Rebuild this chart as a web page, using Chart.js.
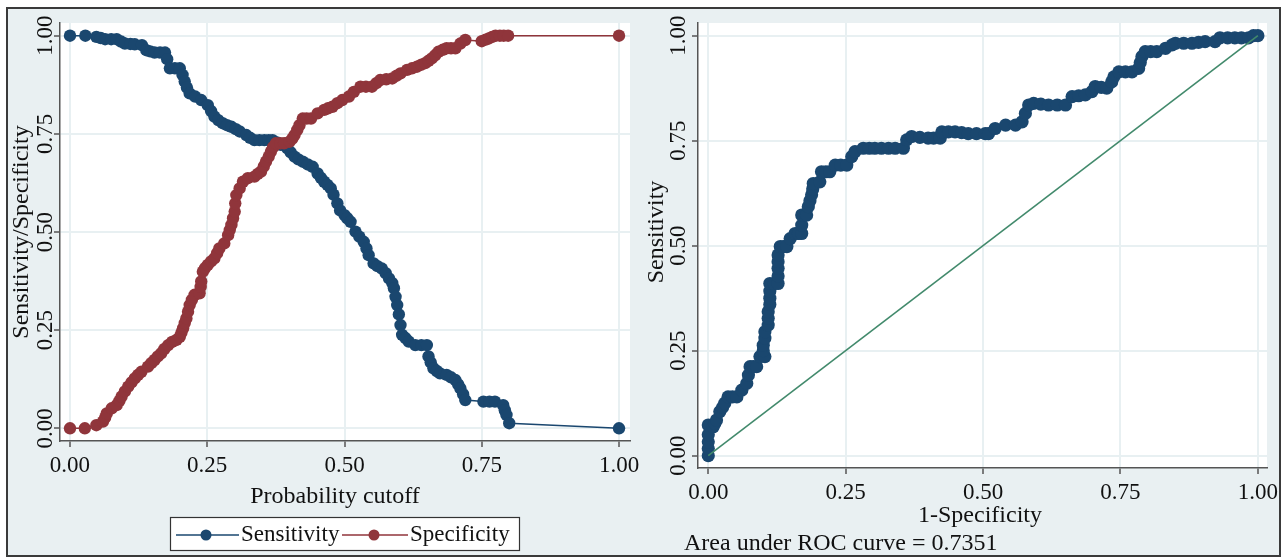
<!DOCTYPE html>
<html>
<head>
<meta charset="utf-8">
<script src="https://cdn.jsdelivr.net/npm/chart.js@4.4.1/dist/chart.umd.min.js"></script>
<style>
  html, body { margin:0; padding:0; background:#ffffff; width:1285px; height:559px; overflow:hidden; }
  #frame { position:absolute; left:6px; top:7px; width:1275px; height:550px; box-sizing:border-box;
           border:2px solid #3a3a3a; background:#e9f0f2; }
  #cLeft { position:absolute; left:0; top:0; }
  #cRight { position:absolute; left:640px; top:0; }
</style>
</head>
<body>
<div id="frame"></div>
<canvas id="cLeft" width="640" height="559"></canvas>
<canvas id="cRight" width="645" height="559"></canvas>
<script>
// ---------------- DATA ----------------
const tickValues = [0, 0.25, 0.5, 0.75, 1];
const tickLabels = ['0.00', '0.25', '0.50', '0.75', '1.00'];
const seriesNames = ['Sensitivity', 'Specificity'];
const leftXTitle = 'Probability cutoff';
const leftYTitle = 'Sensitivity/Specificity';
const rightXTitle = '1-Specificity';
const rightYTitle = 'Sensitivity';
const aucNote = 'Area under ROC curve = 0.7351';

const sensCutoff = [0,0.028,0.048,0.056,0.064,0.075,0.085,0.093,0.10,0.11,0.118,0.131,0.139,0.146,0.154,0.164,0.173,0.177,0.182,0.191,0.2,0.205,0.209,0.213,0.218,0.228,0.239,0.251,0.257,0.263,0.27,0.278,0.286,0.294,0.302,0.309,0.321,0.328,0.336,0.345,0.354,0.362,0.369,0.377,0.384,0.396,0.402,0.409,0.416,0.424,0.433,0.442,0.451,0.457,0.463,0.469,0.475,0.48,0.487,0.492,0.5,0.505,0.511,0.52,0.527,0.535,0.54,0.544,0.553,0.56,0.568,0.575,0.581,0.587,0.59,0.593,0.596,0.599,0.602,0.605,0.611,0.617,0.629,0.64,0.65,0.653,0.657,0.662,0.668,0.674,0.686,0.694,0.702,0.707,0.711,0.716,0.72,0.753,0.764,0.774,0.789,0.792,0.795,0.80,1.0];
const sensValue  = [1.0,1.0,0.997,0.994,0.991,0.991,0.991,0.985,0.98,0.979,0.978,0.976,0.963,0.96,0.957,0.957,0.957,0.94,0.917,0.917,0.917,0.9,0.883,0.868,0.853,0.845,0.836,0.823,0.808,0.794,0.785,0.777,0.772,0.768,0.762,0.756,0.747,0.74,0.734,0.734,0.734,0.734,0.734,0.728,0.722,0.713,0.703,0.692,0.685,0.679,0.672,0.666,0.649,0.638,0.628,0.62,0.611,0.595,0.573,0.555,0.543,0.535,0.526,0.501,0.488,0.475,0.458,0.441,0.42,0.413,0.407,0.395,0.382,0.37,0.357,0.335,0.314,0.29,0.263,0.238,0.23,0.221,0.212,0.212,0.212,0.183,0.168,0.153,0.146,0.14,0.136,0.13,0.123,0.112,0.102,0.087,0.072,0.068,0.068,0.068,0.059,0.046,0.034,0.013,0.0];

const specCutoff = [0,0.027,0.048,0.06,0.064,0.067,0.076,0.085,0.09,0.094,0.1,0.106,0.112,0.118,0.124,0.13,0.142,0.148,0.154,0.16,0.166,0.172,0.179,0.186,0.194,0.2,0.203,0.206,0.209,0.212,0.215,0.218,0.222,0.227,0.236,0.238,0.239,0.242,0.246,0.251,0.257,0.263,0.268,0.272,0.281,0.288,0.291,0.294,0.297,0.3,0.301,0.303,0.309,0.315,0.324,0.336,0.342,0.348,0.353,0.357,0.362,0.366,0.37,0.375,0.383,0.39,0.4,0.405,0.409,0.414,0.418,0.424,0.431,0.439,0.451,0.463,0.47,0.478,0.487,0.496,0.508,0.517,0.529,0.539,0.55,0.558,0.565,0.576,0.587,0.595,0.602,0.614,0.623,0.632,0.64,0.647,0.653,0.659,0.665,0.671,0.679,0.686,0.694,0.702,0.711,0.72,0.75,0.757,0.763,0.769,0.775,0.783,0.79,0.798,1.0];
const specValue  = [0,0,0.008,0.017,0.027,0.038,0.051,0.059,0.07,0.081,0.094,0.106,0.117,0.127,0.136,0.144,0.157,0.166,0.174,0.183,0.191,0.202,0.212,0.22,0.225,0.233,0.244,0.255,0.268,0.28,0.297,0.314,0.327,0.34,0.344,0.36,0.374,0.399,0.408,0.416,0.425,0.433,0.446,0.458,0.471,0.492,0.505,0.518,0.535,0.552,0.573,0.594,0.611,0.628,0.637,0.641,0.648,0.654,0.667,0.679,0.692,0.705,0.716,0.726,0.726,0.726,0.73,0.738,0.747,0.76,0.772,0.789,0.789,0.789,0.802,0.811,0.815,0.819,0.828,0.836,0.845,0.857,0.87,0.87,0.87,0.879,0.887,0.889,0.891,0.898,0.904,0.913,0.917,0.921,0.926,0.93,0.936,0.942,0.95,0.959,0.964,0.968,0.968,0.968,0.98,0.989,0.986,0.99,0.993,0.997,1.0,1.0,1.0,1.0,1.0];

const rocFpr = [0,0,0,0,0,0.009,0.012,0.015,0.021,0.026,0.03,0.036,0.044,0.052,0.061,0.07,0.073,0.076,0.082,0.088,0.094,0.103,0.1,0.1,0.103,0.103,0.109,0.109,0.109,0.112,0.112,0.112,0.112,0.12,0.127,0.127,0.127,0.127,0.127,0.131,0.137,0.143,0.149,0.158,0.164,0.17,0.17,0.17,0.179,0.182,0.185,0.188,0.19,0.191,0.203,0.206,0.214,0.221,0.231,0.241,0.252,0.261,0.267,0.282,0.293,0.303,0.315,0.328,0.34,0.355,0.361,0.37,0.385,0.4,0.41,0.422,0.425,0.437,0.449,0.461,0.473,0.488,0.504,0.51,0.522,0.541,0.559,0.571,0.577,0.583,0.592,0.605,0.619,0.635,0.65,0.662,0.674,0.686,0.698,0.704,0.715,0.725,0.734,0.738,0.747,0.759,0.771,0.783,0.786,0.789,0.795,0.805,0.816,0.832,0.844,0.85,0.865,0.88,0.892,0.904,0.922,0.931,0.945,0.958,0.97,0.983,0.992,1.0];
const rocTpr = [0,0.017,0.033,0.05,0.073,0.069,0.077,0.085,0.105,0.115,0.125,0.14,0.14,0.14,0.156,0.172,0.192,0.212,0.212,0.212,0.236,0.236,0.25,0.263,0.28,0.295,0.311,0.327,0.343,0.36,0.375,0.392,0.41,0.41,0.41,0.428,0.446,0.462,0.478,0.498,0.498,0.498,0.517,0.529,0.529,0.529,0.549,0.573,0.573,0.593,0.607,0.621,0.635,0.648,0.652,0.676,0.676,0.676,0.692,0.692,0.692,0.712,0.724,0.732,0.732,0.732,0.732,0.732,0.732,0.732,0.752,0.76,0.758,0.756,0.756,0.756,0.771,0.771,0.771,0.769,0.767,0.767,0.767,0.767,0.779,0.787,0.787,0.795,0.815,0.835,0.839,0.837,0.835,0.835,0.835,0.855,0.857,0.859,0.867,0.879,0.877,0.875,0.89,0.902,0.914,0.914,0.914,0.922,0.936,0.95,0.962,0.962,0.962,0.97,0.978,0.982,0.982,0.982,0.984,0.986,0.986,0.995,0.995,0.995,0.995,0.995,1.0,1.0];

const refLineX = [0, 1];
const refLineY = [0, 1];

// ---------------- STYLE ----------------
const FONT = '"Liberation Serif", "Times New Roman", serif';
const NAVY = '#1a476f';
const MAROON = '#90353b';
const GREEN = '#428a6c';
const GRID = '#e8f0f2';
const AXIS = '#555555';
const TEXT = '#111111';

const zip = (xs, ys) => xs.map((x, i) => ({ x: x, y: ys[i] }));

function makeScale(min, max, isX, fitSize, labelPad) {
  return {
    type: 'linear', min: min, max: max,
    afterBuildTicks: s => { s.ticks = tickValues.map(v => ({ value: v })); },
    afterFit: s => {
      if (isX) { s.height = fitSize; s.paddingLeft = 0; s.paddingRight = 0; }
      else { s.width = fitSize; s.paddingTop = 0; s.paddingBottom = 0; }
    },
    grid: { color: GRID, lineWidth: 2, drawTicks: true, tickLength: 6, tickColor: AXIS, tickWidth: 1.5 },
    border: { display: true, color: AXIS, width: 1.5 },
    ticks: isX ? {
      display: true, color: TEXT, padding: labelPad, maxRotation: 0, minRotation: 0, autoSkip: false,
      font: { family: FONT, size: 23 },
      callback: (v) => { const i = tickValues.indexOf(v); return i >= 0 ? tickLabels[i] : ''; }
    } : { display: false }
  };
}

function rotText(ctx, text, x, y, size) {
  ctx.save();
  ctx.translate(x, y);
  ctx.rotate(-Math.PI / 2);
  ctx.font = size + 'px ' + FONT;
  ctx.fillStyle = TEXT;
  ctx.textAlign = 'center';
  ctx.textBaseline = 'middle';
  ctx.fillText(text, 0, 0);
  ctx.restore();
}

function plotBg(chart) {
  const a = chart.chartArea, ctx = chart.ctx;
  ctx.save(); ctx.fillStyle = '#ffffff';
  ctx.fillRect(a.left, a.top, a.right - a.left, a.bottom - a.top);
  ctx.restore();
}

function yTickText(chart, xAnchor) {
  const ys = chart.scales.y;
  tickValues.forEach((v, i) => rotText(chart.ctx, tickLabels[i], xAnchor, ys.getPixelForValue(v), 23));
}

const leftDecor = {
  id: 'leftDecor',
  beforeDraw(chart) { plotBg(chart); },
  afterDraw(chart) {
    const ctx = chart.ctx;
    yTickText(chart, 46);
    rotText(ctx, leftYTitle, 22, 232, 24);
    ctx.save();
    ctx.font = '24px ' + FONT; ctx.fillStyle = TEXT; ctx.textAlign = 'center'; ctx.textBaseline = 'middle';
    ctx.fillText(leftXTitle, 335, 497);
    // legend box
    ctx.fillStyle = '#ffffff'; ctx.fillRect(170, 517, 350, 34);
    ctx.strokeStyle = '#333333'; ctx.lineWidth = 1.2; ctx.strokeRect(170.5, 517.5, 349, 33);
    const ds = chart.data.datasets;
    const items = [{ x0: 176, x1: 239, cx: 206, tx: 241 }, { x0: 342, x1: 408, cx: 374, tx: 410 }];
    items.forEach((it, i) => {
      const d = ds.find(q => q.label === seriesNames[i]);
      ctx.strokeStyle = d.borderColor; ctx.lineWidth = 1.5;
      ctx.beginPath(); ctx.moveTo(it.x0, 535); ctx.lineTo(it.x1, 535); ctx.stroke();
      ctx.fillStyle = d.pointBackgroundColor;
      ctx.beginPath(); ctx.arc(it.cx, 535, 5.5, 0, Math.PI * 2); ctx.fill();
      ctx.fillStyle = TEXT; ctx.font = '23px ' + FONT; ctx.textAlign = 'left'; ctx.textBaseline = 'middle';
      ctx.fillText(seriesNames[i], it.tx, 535);
    });
    ctx.restore();
  }
};

const rightDecor = {
  id: 'rightDecor',
  beforeDraw(chart) { plotBg(chart); },
  afterDraw(chart) {
    const ctx = chart.ctx;
    yTickText(chart, 39);
    rotText(ctx, rightYTitle, 17, 232, 24);
    ctx.save();
    ctx.font = '24px ' + FONT; ctx.fillStyle = TEXT; ctx.textBaseline = 'middle';
    ctx.textAlign = 'center';
    ctx.fillText(rightXTitle, 340, 516);
    ctx.textAlign = 'left';
    ctx.fillText(aucNote, 44, 544);
    ctx.restore();
  }
};

const common = {
  responsive: false, maintainAspectRatio: false, animation: false,
  plugins: { legend: { display: false }, tooltip: { enabled: false }, title: { display: false } },
  elements: { line: { tension: 0 } }
};

new Chart(document.getElementById('cLeft'), {
  type: 'scatter',
  data: {
    datasets: [
      { label: seriesNames[0], data: zip(sensCutoff, sensValue), showLine: true, order: 2,
        borderColor: NAVY, borderWidth: 1.5, pointBackgroundColor: NAVY, pointBorderWidth: 0,
        pointRadius: 6.2, pointHoverRadius: 6.2 },
      { label: seriesNames[1], data: zip(specCutoff, specValue), showLine: true, order: 1,
        borderColor: MAROON, borderWidth: 1.5, pointBackgroundColor: MAROON, pointBorderWidth: 0,
        pointRadius: 6.2, pointHoverRadius: 6.2 }
    ]
  },
  options: Object.assign({}, common, {
    layout: { padding: { left: 0, top: 23, right: 10, bottom: 0 } },
    scales: {
      x: makeScale(-0.0182, 1.0200, true, 118, 5),
      y: makeScale(-0.0323, 1.0323, false, 60, 0)
    }
  }),
  plugins: [leftDecor]
});

new Chart(document.getElementById('cRight'), {
  type: 'scatter',
  data: {
    datasets: [
      { label: 'Reference', data: zip(refLineX, refLineY), showLine: true, order: 0,
        borderColor: GREEN, borderWidth: 1.6, pointRadius: 0, pointHoverRadius: 0 },
      { label: 'ROC', data: zip(rocFpr, rocTpr), showLine: true, order: 1,
        borderColor: NAVY, borderWidth: 1.5, pointBackgroundColor: NAVY, pointBorderWidth: 0,
        pointRadius: 6.6, pointHoverRadius: 6.6 }
    ]
  },
  options: Object.assign({}, common, {
    layout: { padding: { left: 0, top: 23, right: 18, bottom: 0 } },
    scales: {
      x: makeScale(-0.0187, 1.0166, true, 91, 5),
      y: makeScale(-0.0293, 1.0302, false, 58, 0)
    }
  }),
  plugins: [rightDecor]
});
</script>
</body>
</html>
